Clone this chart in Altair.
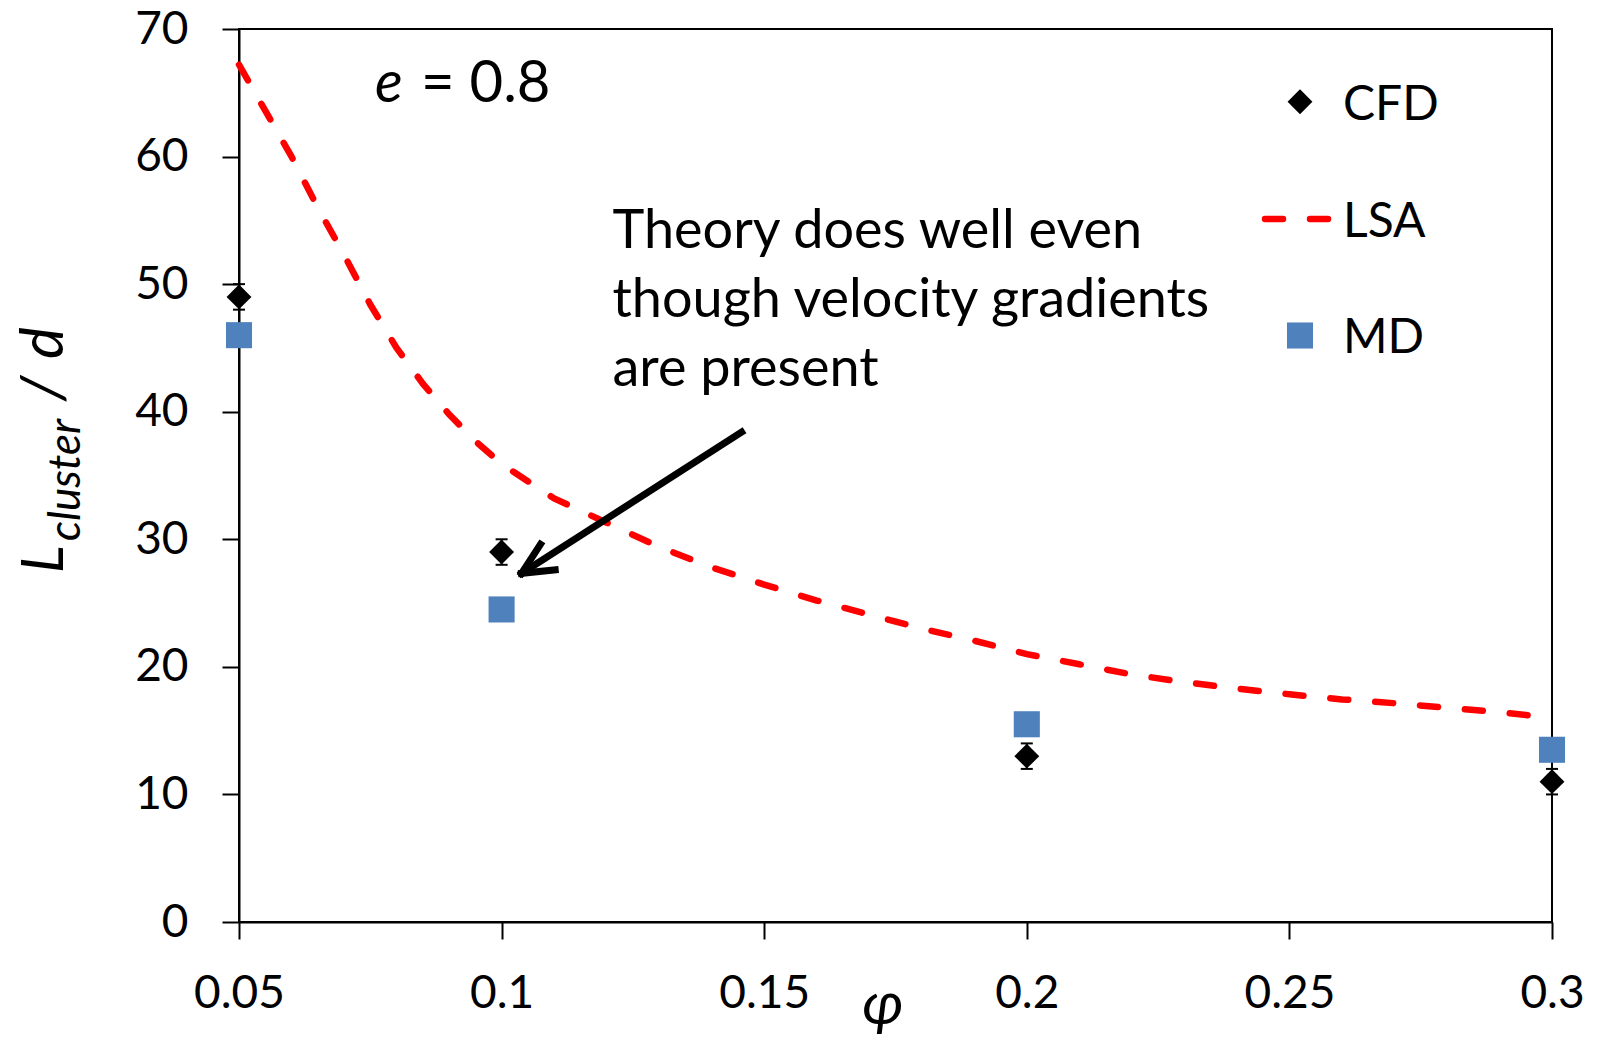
import altair as alt
import pandas as pd

# ---------------- data ----------------
phi_pts = [0.05, 0.1, 0.2, 0.3]
cfd_vals = [49, 29, 13, 11]
cfd_err = [1, 1, 1, 1]
md_vals = [46, 24.5, 15.5, 13.5]

lsa_phi = [0.05, 0.055, 0.06, 0.065, 0.07, 0.075, 0.08, 0.085, 0.09, 0.095,
           0.1, 0.11, 0.12, 0.13, 0.14, 0.15, 0.16, 0.17, 0.18, 0.19,
           0.2, 0.21, 0.22, 0.23, 0.24, 0.25, 0.26, 0.27, 0.28, 0.29, 0.3]
lsa_vals = [67.2, 63.6, 60.0, 56.0, 52.3, 48.4, 45.0, 42.2, 39.8, 37.7,
            35.9, 33.2, 31.3, 29.4, 27.8, 26.45, 25.2, 24.1, 23.0, 22.05,
            21.0, 20.2, 19.4, 18.8, 18.3, 17.85, 17.45, 17.15, 16.8, 16.45, 16.0]

x_ticks = [0.05, 0.1, 0.15, 0.2, 0.25, 0.3]
y_ticks = [0, 10, 20, 30, 40, 50, 60, 70]

note_lines = ["Theory does well even", "though velocity gradients", "are present"]

# arrow segments (data units): shaft, two head wings
arrow_x1 = [0.1457, 0.1038, 0.1038]
arrow_y1 = [38.4, 27.33, 27.33]
arrow_x2 = [0.1038, 0.1074, 0.1102]
arrow_y2 = [27.33, 29.6, 27.6]

# ---------------- tables ----------------
pts = pd.DataFrame({"phi": phi_pts, "cfd": cfd_vals, "md": md_vals,
                    "lo": [v - e for v, e in zip(cfd_vals, cfd_err)],
                    "hi": [v + e for v, e in zip(cfd_vals, cfd_err)]})
lsa = pd.DataFrame({"phi": lsa_phi, "val": lsa_vals})
arrow = pd.DataFrame({"phi": arrow_x1, "val": arrow_y1, "phi2": arrow_x2, "val2": arrow_y2})
one = pd.DataFrame({"k": [0]})

FONT = "Lato"
xscale = alt.Scale(domain=[0.05, 0.3], nice=False, zero=False)
yscale = alt.Scale(domain=[0, 70], nice=False, zero=False)
xaxis = alt.Axis(values=x_ticks, format="~g", title=None, grid=False,
                 tickSize=17, tickWidth=2, tickColor="black",
                 domainColor="black", domainWidth=2,
                 labelFontSize=46, labelFont=FONT, labelColor="black",
                 labelPadding=32, labelFlush=False, labelOverlap=False)
yaxis = alt.Axis(values=y_ticks, title=None, grid=False,
                 tickSize=17, tickWidth=2, tickColor="black",
                 domainColor="black", domainWidth=2,
                 labelFontSize=46, labelFont=FONT, labelColor="black",
                 labelPadding=34, labelFlush=False, labelOverlap=False)


def X(field):
    return alt.X(f"{field}:Q", scale=xscale, axis=xaxis)


def Y(field):
    return alt.Y(f"{field}:Q", scale=yscale, axis=yaxis)


lsa_line = alt.Chart(lsa).mark_line(
    color="#FF0000", strokeWidth=6.5, strokeDash=[18, 27], strokeCap="round"
).encode(x=X("phi"), y=Y("val"))

err_rule = alt.Chart(pts).mark_rule(color="black", strokeWidth=2).encode(
    x=X("phi"), y=Y("lo"), y2="hi:Q")
cap_hi = alt.Chart(pts).mark_tick(color="black", thickness=2, size=12, orient="horizontal",
                                  opacity=1).encode(x=X("phi"), y=Y("hi"))
cap_lo = alt.Chart(pts).mark_tick(color="black", thickness=2, size=12, orient="horizontal",
                                  opacity=1).encode(x=X("phi"), y=Y("lo"))
cfd_pts = alt.Chart(pts).mark_point(shape="diamond", filled=True, color="black",
                                    size=620, opacity=1).encode(x=X("phi"), y=Y("cfd"))
md_pts = alt.Chart(pts).mark_point(shape="square", filled=True, color="#4F81BD",
                                   size=680, opacity=1).encode(x=X("phi"), y=Y("md"))

arrow_mark = alt.Chart(arrow).mark_rule(color="black", strokeWidth=7, strokeCap="square").encode(
    x=X("phi"), y=Y("val"), x2="phi2:Q", y2="val2:Q")


def txt(s, x, y, size, italic=False, angle=0, align="left", baseline="alphabetic", lh=None):
    kw = dict(text=s, fontSize=size, font=FONT, color="black", align=align, baseline=baseline)
    if italic:
        kw["fontStyle"] = "italic"
    if angle:
        kw["angle"] = angle
    if lh:
        kw["lineHeight"] = lh
    return alt.Chart(one).mark_text(**kw).encode(x=alt.value(x), y=alt.value(y))


texts = [
    # y title  L_cluster / d
    txt("L", -176, 544, 58, italic=True, angle=270),
    txt("cluster", -159, 512, 44, italic=True, angle=270),
    txt("/", -176, 372, 60, italic=True, angle=270),
    txt("d", -176, 330, 60, italic=True, angle=270),
    # x title
    txt("φ", 644, 995, 60, italic=True, align="center"),
    # e = 0.8
    txt("e", 136, 72.7, 58, italic=True),
    txt("= 0.8", 182, 72.7, 58),
    # annotation
    txt(note_lines, 373.5, 218.6, 54, lh=69),
    # legend labels
    txt("CFD", 1104, 91, 48),
    txt("LSA", 1104, 208, 48),
    txt("MD", 1104, 324, 48),
]

leg_cfd = alt.Chart(one).mark_point(shape="diamond", filled=True, color="black", size=620,
                                    opacity=1).encode(x=alt.value(1061), y=alt.value(72.7))
leg_lsa = alt.Chart(one).mark_rule(color="#FF0000", strokeWidth=6.5, strokeDash=[18, 27],
                                   strokeCap="round").encode(
    x=alt.value(1026), x2=alt.value(1092), y=alt.value(190))
leg_md = alt.Chart(one).mark_point(shape="square", filled=True, color="#4F81BD", size=680,
                                   opacity=1).encode(x=alt.value(1061), y=alt.value(306.5))

chart = alt.layer(
    lsa_line, err_rule, cap_hi, cap_lo, cfd_pts, md_pts, arrow_mark,
    leg_cfd, leg_lsa, leg_md, *texts
).properties(
    width=1313, height=893,
    autosize=alt.AutoSizeParams(type="none"),
    padding={"left": 239, "top": 29, "right": 46, "bottom": 117},
    background="white",
).configure_view(stroke="black", strokeWidth=2)

chart.save("out.html", embed_options={"renderer": "svg", "actions": False})
